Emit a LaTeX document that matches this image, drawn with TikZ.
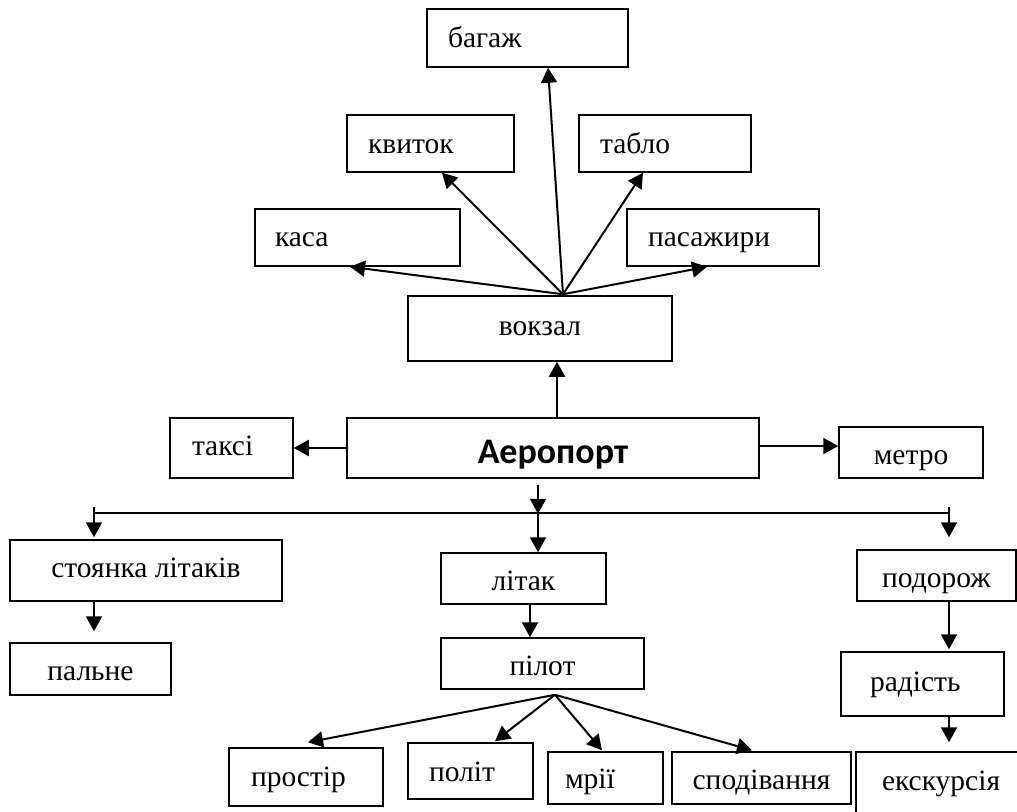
\documentclass[tikz,border=0pt]{standalone}
\usepackage{fontspec}
\setmainfont{Liberation Serif}
\newfontfamily\carlitofont{Carlito}
\usetikzlibrary{arrows.meta,calc}
% centred box: [opts]{name}{x1}{y1}{x2}{y2}{text}
\newcommand\cbox[7][]{%
  \pgfmathsetmacro\mybw{#5-#3}\pgfmathsetmacro\mybh{#6-#4}%
  \pgfmathsetmacro\mycx{(#3+#5)/2}\pgfmathsetmacro\mycy{(#4+#6)/2}%
  \node[bx,minimum width=\mybw pt,minimum height=\mybh pt,#1] (#2) at (\mycx,\mycy) {#7};}
% left-aligned box: [opts]{name}{x1}{y1}{x2}{y2}{pad}{text}
\newcommand\lbox[8][]{%
  \pgfmathsetmacro\mybw{#5-#3}\pgfmathsetmacro\mybh{#6-#4}%
  \pgfmathsetmacro\mytw{#5-#3-2*#7}%
  \pgfmathsetmacro\mycx{(#3+#5)/2}\pgfmathsetmacro\mycy{(#4+#6)/2}%
  \node[bx,minimum width=\mybw pt,minimum height=\mybh pt,inner xsep=#7pt,text width=\mytw pt,align=left,#1] (#2) at (\mycx,\mycy) {#8};}
\begin{document}
\begin{tikzpicture}[x=1pt,y=-1pt,
  bx/.style={draw,line width=1.5pt,inner ysep=0pt,text height=18pt,text depth=0pt,
    font=\fontsize{29.5}{34}\selectfont},
  arr/.style={line width=2pt,-{Triangle[length=15pt,width=16pt]}},
  ln/.style={line width=2pt}]
\fill[white] (0,0) rectangle (1017,811);
\useasboundingbox (0,0) rectangle (1017,811);
\clip (0,0) rectangle (1017,811);

% boxes
\lbox{bag}{427}{9}{628}{67}{21}{багаж}
\lbox[text height=19.5pt]{kvy}{347}{115}{514}{172}{21}{квиток}
\lbox[text height=19.5pt]{tab}{579}{115}{751}{172}{21}{табло}
\lbox{kas}{255}{209}{460}{266}{20}{каса}
\lbox{pas}{627}{209}{819}{266}{21}{пасажири}
\cbox[text height=13pt]{vok}{408}{296}{672}{361}{вокзал}
\lbox[text height=14pt]{tak}{170}{418}{293}{478}{22}{таксі}
\cbox[font=\carlitofont\bfseries\fontsize{36}{40}\selectfont,text height=30pt]{aer}{347}{418}{759}{478}{Аеропорт}
\cbox[text height=23pt]{met}{839}{427}{983}{478}{метро}
\cbox[text height=14pt]{sto}{10}{540}{282}{601}{стоянка літаків}
\cbox[text height=22.5pt]{pal}{10}{643}{171}{695}{пальне}
\cbox[text height=23pt]{lit}{441}{553}{606}{604}{літак}
\cbox[text height=23pt]{pil}{441}{638}{644}{689}{пілот}
\lbox{pro}{229}{748}{383}{806}{22}{простір}
\lbox[text height=21.5pt]{pol}{408}{743}{533}{799}{21}{політ}
\lbox[text height=20pt]{mri}{548}{752}{663}{804}{17}{мрії}
\cbox[text height=22.5pt]{spo}{672}{752}{851}{804}{сподівання}
\cbox[text height=23pt]{pod}{857}{550}{1016}{601}{подорож}
\lbox[draw=none,text height=12pt]{eks}{857}{753}{1070}{816}{25}{екскурсія}
\draw[line width=2pt] (eks.south west) -- (eks.north west) -- (eks.north east);
\lbox[text height=14pt]{rad}{841}{652}{1004}{716}{29}{радість}

% top fan from вокзал
\coordinate (s1) at ($(vok.north)+(23,-1)$);
\draw[arr] (s1) -- ($(kas.south)+(-7.5,0)$);
\draw[arr] (s1) -- ($(kvy.south)+(11.5,0)$);
\draw[arr] (s1) -- ($(bag.south)+(20.5,0)$);
\draw[arr] (s1) -- ($(tab.south)+(-22,0)$);
\draw[arr] (s1) -- ($(pas.south)+(-16,0)$);

% around Аеропорт
\draw[arr] ($(aer.north)+(4,0)$) -- ($(vok.south)+(17,0)$);
\draw[arr] (aer.west) -- (aer.west -| tak.east);
\draw[arr] ($(aer.east)+(0,-2)$) -- ($(aer.east -| met.west)+(0,-2)$);

% branch line
\coordinate (jm) at ($(aer.south)+(-15,35)$);
\coordinate (jl) at (94,513);
\coordinate (jr) at (949,513);
\draw[ln] (jl) -- (jr);
\draw[arr] ($(aer.south)+(-15,6)$) -- (jm);
\draw[arr] ($(jl)+(0,-6)$) -- ($(jl |- sto.north)+(0,-2)$);
\draw[arr] ($(jr)+(0,-6)$) -- ($(jr |- pod.north)+(0,-12)$);
\draw[arr] (jm) -- (jm |- lit.north);

% columns
\draw[arr] (jl |- sto.south) -- ($(jl |- pal.north)+(0,-11)$);
\draw[arr] ($(lit.south)+(6.5,0)$) -- ($(pil.north)+(-12.5,0)$);
\draw[arr] (jr |- pod.south) -- ($(jr |- rad.north)+(0,-2)$);
\draw[arr] (jr |- rad.south) -- ($(jr |- eks.north)+(0,-10)$);

% bottom fan from пілот
\coordinate (s2) at ($(pil.south)+(12.5,5)$);
\draw[arr] (s2) -- ($(pro.north)+(2,-5)$);
\draw[arr] (s2) -- ($(pol.north)+(24.5,-1)$);
\draw[arr] (s2) -- ($(mri.north)+(-3.5,-1)$);
\draw[arr] (s2) -- ($(spo.north)+(-9.5,-1)$);
\end{tikzpicture}
\end{document}
